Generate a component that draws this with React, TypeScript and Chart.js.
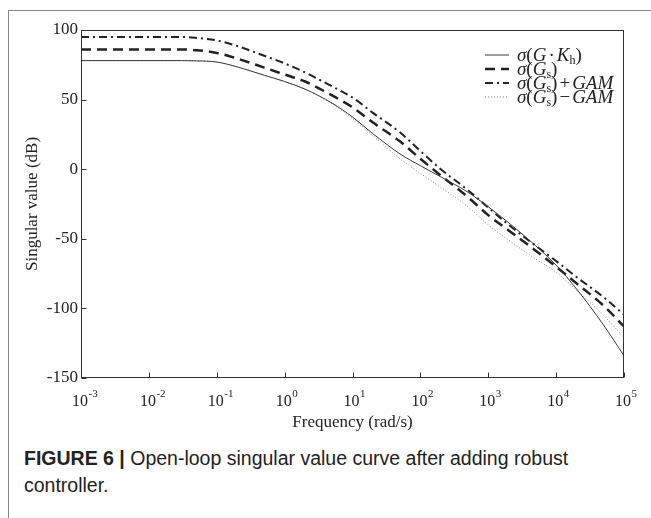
import React, { useEffect, useRef } from "react";
import { Chart, registerables } from "chart.js";
Chart.register(...registerables);

// ---- data ----
const frequency = [0.001, 0.01, 0.03, 0.05, 0.1, 0.2, 0.5, 1, 2, 5, 10, 20, 50, 100, 200, 500, 1000, 2000, 5000, 10000, 20000, 50000, 100000];
const sigmaGK = [78, 78, 78, 77.8, 77, 73.5, 67.5, 63, 57.5, 47.5, 37.5, 25.5, 11, 2.5, -5.5, -16.5, -27, -38.5, -55, -69, -86, -112, -134];
const sigmaGs = [86, 86, 86, 85.5, 83.5, 79.5, 73, 68, 63, 53, 44.5, 33.5, 20, 7.5, -4.5, -20, -33, -44, -58.5, -70, -82, -98, -113];
const sigmaGsPlus = [95, 95, 95, 94.3, 92.5, 88.5, 81.5, 76, 69.5, 59.5, 51.5, 40.5, 26.5, 13, 0, -15, -27.5, -40, -55, -66, -77.5, -92, -104.5];
const sigmaGsMinus = [78, 78, 78, 78, 77, 73.5, 67.5, 63, 57.5, 47, 36.5, 24, 7.5, -3, -13, -27, -40, -51, -64.5, -74, -87, -105, -121];

const xTickExponents = ["-3", "-2", "-1", "0", "1", "2", "3", "4", "5"];
const yTicks = [100, 50, 0, -50, -100, -150];
const xTitle = "Frequency (rad/s)";
const yTitle = "Singular value (dB)";
// legend segments: [text, style] style: i = italic, n = normal, s = subscript
const legendLabels: [string, string][][] = [
  [["σ", "i"], ["(", "n"], ["G", "i"], ["·", "d"], ["K", "i"], ["h", "s"], [")", "n"]],
  [["σ", "i"], ["(", "n"], ["G", "i"], ["s", "s"], [")", "n"]],
  [["σ", "i"], ["(", "n"], ["G", "i"], ["s", "s"], [")", "n"], ["+", "o"], ["GAM", "i"]],
  [["σ", "i"], ["(", "n"], ["G", "i"], ["s", "s"], [")", "n"], ["−", "o"], ["GAM", "i"]],
];

const SERIF = '"Liberation Serif", "Times New Roman", serif';

const overlay = {
  id: "overlay",
  afterDraw(chart: any) {
    const { ctx, chartArea: a, scales } = chart;
    const xs = scales.x;
    const ys = scales.y;
    ctx.save();
    const L = Math.round(a.left) + 0.5;
    const R = Math.round(a.right) - 0.5;
    const T = Math.round(a.top) + 0.5;
    const B = Math.round(a.bottom) - 0.5;
    ctx.strokeStyle = "#333";
    ctx.lineWidth = 1;
    ctx.strokeRect(L, T, R - L, B - T);
    ctx.beginPath();
    yTicks.forEach((v) => {
      const y = Math.round(ys.getPixelForValue(v)) + 0.5;
      ctx.moveTo(L, y);
      ctx.lineTo(L + 5, y);
    });
    xTickExponents.forEach((e) => {
      const x = Math.round(xs.getPixelForValue(Math.pow(10, Number(e)))) + 0.5;
      ctx.moveTo(x, B);
      ctx.lineTo(x, B - 5);
    });
    ctx.stroke();

    // x tick labels with superscripts
    ctx.fillStyle = "#222";
    ctx.textAlign = "left";
    ctx.textBaseline = "alphabetic";
    xTickExponents.forEach((e) => {
      const x = xs.getPixelForValue(Math.pow(10, Number(e)));
      ctx.font = `16px ${SERIF}`;
      const w = ctx.measureText("10").width;
      const x0 = x - w / 2 - 1;
      ctx.fillText("10", x0, 406);
      ctx.font = `11px ${SERIF}`;
      ctx.fillText(e, x0 + w + 0.5, 397);
    });

    // axis titles
    ctx.font = `17px ${SERIF}`;
    ctx.textAlign = "center";
    ctx.textBaseline = "middle";
    ctx.fillText(xTitle, (a.left + a.right) / 2, 423);
    ctx.save();
    ctx.translate(33, (a.top + a.bottom) / 2);
    ctx.rotate(-Math.PI / 2);
    ctx.fillText(yTitle, 0, 0);
    ctx.restore();

    // legend
    const ds = chart.data.datasets;
    const lx0 = 485;
    const lx1 = 509;
    const tx = 517;
    legendLabels.forEach((segs, i) => {
      const y = 55 + i * 14;
      const d = ds[i];
      ctx.save();
      ctx.strokeStyle = d.borderColor;
      ctx.lineWidth = d.borderWidth;
      ctx.setLineDash(d.borderDash || []);
      ctx.beginPath();
      ctx.moveTo(lx0, y);
      ctx.lineTo(lx1, y);
      ctx.stroke();
      ctx.restore();
      let x = tx;
      ctx.textAlign = "left";
      ctx.textBaseline = "alphabetic";
      ctx.fillStyle = "#222";
      const base = y + 6;
      segs.forEach(([t, s]) => {
        if (s === "i") ctx.font = `italic 19px ${SERIF}`;
        else if (s === "s") ctx.font = `12px ${SERIF}`;
        else ctx.font = `19px ${SERIF}`;
        const pad = s === "d" || s === "o" ? 2 : 0;
        x += pad;
        ctx.fillText(t, x, s === "s" ? base + 3 : base);
        x += ctx.measureText(t).width + pad;
      });
    });
    ctx.restore();
  },
};

export default function App() {
  const ref = useRef<HTMLCanvasElement | null>(null);
  useEffect(() => {
    if (!ref.current) return;
    const mk = (vals: number[]) => frequency.map((f, i) => ({ x: f, y: vals[i] }));
    const chart = new Chart(ref.current, {
      type: "line",
      data: {
        datasets: [
          { label: "GK", data: mk(sigmaGK), borderColor: "#3a3a3a", borderWidth: 1, borderDash: [], pointRadius: 0, cubicInterpolationMode: "monotone", fill: false },
          { label: "Gs", data: mk(sigmaGs), borderColor: "#222", borderWidth: 2.5, borderDash: [10, 6], pointRadius: 0, cubicInterpolationMode: "monotone", fill: false },
          { label: "Gs+GAM", data: mk(sigmaGsPlus), borderColor: "#222", borderWidth: 2, borderDash: [8, 4, 2, 4], pointRadius: 0, cubicInterpolationMode: "monotone", fill: false },
          { label: "Gs-GAM", data: mk(sigmaGsMinus), borderColor: "#888", borderWidth: 1, borderDash: [1, 2], pointRadius: 0, cubicInterpolationMode: "monotone", fill: false },
        ],
      } as any,
      options: {
        animation: false,
        responsive: false,
        devicePixelRatio: 1,
        layout: { padding: { top: 30, right: 27, left: 0, bottom: 0 } },
        plugins: { legend: { display: false }, tooltip: { enabled: false } },
        scales: {
          x: {
            type: "logarithmic",
            min: 0.001,
            max: 100000,
            grid: { display: false },
            border: { display: false },
            ticks: { display: false },
            afterFit: (s: any) => { s.height = 62; },
          },
          y: {
            type: "linear",
            min: -150,
            max: 100,
            grid: { display: false, drawTicks: false },
            border: { display: false },
            ticks: { stepSize: 50, padding: 3, color: "#222", font: { family: SERIF, size: 17 } },
            afterFit: (s: any) => { s.width = 81; },
          },
        },
      } as any,
      plugins: [overlay],
    });
    return () => chart.destroy();
  }, []);

  return (
    <div style={{ position: "fixed", left: 0, top: 0, width: 651, height: 518, background: "#fff", overflow: "hidden" }}>
      <div style={{ position: "absolute", left: 8, top: 10, width: 643, height: 508, borderLeft: "1px solid #888", borderTop: "1px solid #888" }} />
      <canvas ref={ref} width={651} height={440} style={{ position: "absolute", left: 0, top: 0, width: 651, height: 440 }} />
      <div style={{ position: "absolute", left: 24, top: 445, width: 620, fontFamily: '"Liberation Sans", Arial, sans-serif', fontSize: 19.5, lineHeight: "27px", color: "#222" }}>
        <b>FIGURE 6 |</b> Open-loop singular value curve after adding robust<br />controller.
      </div>
    </div>
  );
}
